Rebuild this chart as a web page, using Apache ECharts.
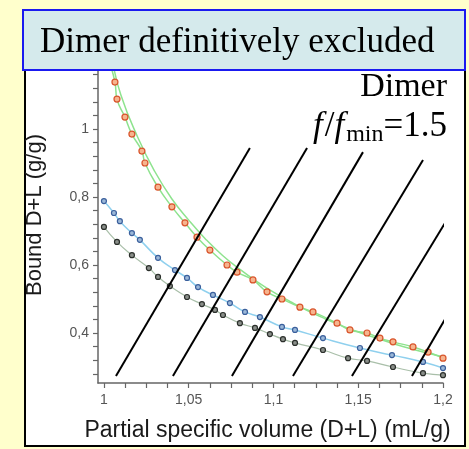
<!DOCTYPE html>
<html>
<head>
<meta charset="utf-8">
<script src="https://cdn.jsdelivr.net/npm/echarts@6/dist/echarts.min.js"></script>
<style>
  html, body { margin: 0; padding: 0; background: #FFFFCC; }
  #chart { width: 469px; height: 449px; }
</style>
</head>
<body>
<div id="chart"></div>
<script>
// Bound detergent+lipid vs partial specific volume (three sample sets)
const redPoints = [
  [1.0, 1.29], [1.0024, 1.218], [1.0065, 1.138], [1.0077, 1.088], [1.0124, 1.035],
  [1.0165, 0.985], [1.0224, 0.935], [1.0242, 0.900], [1.0319, 0.829], [1.0401, 0.771],
  [1.0478, 0.724], [1.0549, 0.682], [1.0625, 0.644], [1.0726, 0.600], [1.0785, 0.579],
  [1.0879, 0.556], [1.0962, 0.521], [1.1050, 0.500], [1.1156, 0.476], [1.1233, 0.462],
  [1.1375, 0.429], [1.1451, 0.409], [1.1552, 0.400], [1.1628, 0.385], [1.1705, 0.374],
  [1.1823, 0.359], [1.1912, 0.344], [1.2, 0.326]
];
const redFitUpper = [
  [1.0, 1.33], [1.005, 1.20], [1.01, 1.10], [1.02, 0.975], [1.03, 0.875], [1.04, 0.795],
  [1.05, 0.732], [1.06, 0.676], [1.07, 0.628], [1.08, 0.588], [1.09, 0.552], [1.10, 0.520],
  [1.11, 0.492], [1.12, 0.466], [1.13, 0.443], [1.14, 0.422], [1.15, 0.403], [1.16, 0.386],
  [1.17, 0.370], [1.18, 0.355], [1.19, 0.342], [1.2, 0.330]
];
const bluePoints = [
  [1.0, 0.788], [1.0059, 0.753], [1.0094, 0.729], [1.0165, 0.694], [1.0212, 0.674],
  [1.0319, 0.621], [1.0419, 0.585], [1.0490, 0.562], [1.0555, 0.535], [1.0643, 0.512],
  [1.0743, 0.488], [1.0832, 0.462], [1.0920, 0.447], [1.1050, 0.418], [1.1127, 0.409],
  [1.1292, 0.385], [1.1510, 0.356], [1.1699, 0.335], [1.1882, 0.315], [1.2, 0.297]
];
const blackPoints = [
  [1.0, 0.712], [1.0077, 0.668], [1.0165, 0.629], [1.0265, 0.591], [1.0319, 0.565],
  [1.0389, 0.538], [1.0490, 0.506], [1.0578, 0.485], [1.0655, 0.468], [1.0702, 0.453],
  [1.0802, 0.429], [1.0891, 0.415], [1.0979, 0.397], [1.1056, 0.382], [1.1127, 0.371],
  [1.1292, 0.350], [1.1440, 0.326], [1.1552, 0.318], [1.1705, 0.300], [1.1882, 0.282],
  [1.2, 0.276]
];
// Dimer f/fmin = 1.5 iso-lines (start, end)
const dimerLines = [
  [[1.0071, 0.2735], [1.0861, 0.944]],
  [[1.0407, 0.2735], [1.1198, 0.944]],
  [[1.0755, 0.2735], [1.1528, 0.932]],
  [[1.1115, 0.2735], [1.1882, 0.909]],
  [[1.1463, 0.2735], [1.2094, 0.791]],
  [[1.1817, 0.2735], [1.2106, 0.521]]
];
const xTickValues = [1.0, 1.0125, 1.025, 1.0375, 1.05, 1.0625, 1.075, 1.0875, 1.1,
  1.1125, 1.125, 1.1375, 1.15, 1.1625, 1.175, 1.1875, 1.2];
const xLabelValues = [1.0, 1.05, 1.1, 1.15, 1.2];
const yTickValues = [0.28, 0.32, 0.36, 0.4, 0.44, 0.48, 0.52, 0.56, 0.6, 0.64, 0.68, 0.72,
  0.76, 0.8, 0.84, 0.88, 0.92, 0.96, 1.0, 1.04, 1.08, 1.12, 1.16, 1.2, 1.24, 1.28];
const yLabelValues = [0.4, 0.6, 0.8, 1.0, 1.2];

const commaFmt = v => String(Math.round(v * 1000) / 1000).replace('.', ',');

const chart = echarts.init(document.getElementById('chart'), null, { renderer: 'canvas' });

const lineSeries = dimerLines.map(seg => ({
  type: 'line', data: seg, symbol: 'none', clip: false, silent: true, z: 5,
  lineStyle: { color: '#000', width: 2 }
}));

chart.setOption({
  backgroundColor: '#FFFFCC',
  animation: false,
  grid: { left: 98, right: 26, top: 27, bottom: 66, containLabel: false },
  xAxis: {
    type: 'value', min: 0.9965, max: 1.2,
    name: 'Partial specific volume (D+L) (mL/g)',
    nameLocation: 'middle', nameGap: 36,
    nameTextStyle: { fontFamily: 'Liberation Sans', fontSize: 23, color: '#1a1a1a', padding: [0, 6, 0, 0] },
    axisLine: { show: true, onZero: false, lineStyle: { color: '#666', width: 1.5 } },
    axisTick: { show: true, customValues: xTickValues, length: 5, lineStyle: { color: '#666', width: 1.2 } },
    axisLabel: { customValues: xLabelValues, formatter: commaFmt, color: '#555',
      fontFamily: 'Liberation Sans', fontSize: 14, margin: 10 },
    splitLine: { show: false }
  },
  yAxis: {
    type: 'value', min: 0.253, max: 1.3,
    name: 'Bound D+L (g/g)',
    nameLocation: 'middle', nameGap: 52, nameRotate: 90,
    nameTextStyle: { fontFamily: 'Liberation Sans', fontSize: 22, color: '#1a1a1a', padding: [0, 20, 0, 0] },
    axisLine: { show: true, onZero: false, lineStyle: { color: '#666', width: 1.5 } },
    axisTick: { show: true, customValues: yTickValues, length: 5, lineStyle: { color: '#666', width: 1.2 } },
    axisLabel: { customValues: yLabelValues, formatter: commaFmt, color: '#555',
      fontFamily: 'Liberation Sans', fontSize: 14, margin: 9 },
    splitLine: { show: false }
  },
  graphic: [
    { type: 'rect', z: -10, shape: { x: 25, y: 25, width: 440, height: 421 },
      style: { fill: '#FFFFFF', stroke: '#000', lineWidth: 2 } },
    { type: 'rect', z: 100, shape: { x: 23, y: 10, width: 442, height: 60 },
      style: { fill: '#D5EAEC', stroke: '#1A1AF0', lineWidth: 2 } },
    { type: 'text', z: 101, left: 40, top: 25,
      style: { text: 'Dimer definitively excluded', fill: '#000',
        font: '35px "Liberation Serif"' } },
    { type: 'text', z: 101, right: 22, top: 70,
      style: { text: 'Dimer', fill: '#000', font: '34px "Liberation Serif"', align: 'right' } },
    { type: 'text', z: 101, right: 22, top: 109,
      style: {
        text: '{i|f}{n|/}{i|f}{s|min}{n|=1.5}', align: 'right',
        rich: {
          i: { font: 'italic 35px "Liberation Serif"', fill: '#000', padding: [0, 2, 0, 0] },
          n: { font: '35px "Liberation Serif"', fill: '#000' },
          s: { font: '24px "Liberation Serif"', fill: '#000', verticalAlign: 'bottom', padding: [16, 0, 0, 0] }
        }
      } }
  ],
  series: [
    {
      type: 'line', data: redFitUpper, symbol: 'none', smooth: true, silent: true, z: 2,
      lineStyle: { color: '#8EE38E', width: 1.5 }
    },
    {
      type: 'line', data: blackPoints, smooth: true, symbol: 'circle', symbolSize: 5, z: 3,
      lineStyle: { color: '#A9BFA9', width: 1.2 },
      itemStyle: { color: '#8a8f8a', borderColor: '#2b2f2b', borderWidth: 1.2 }
    },
    {
      type: 'line', data: bluePoints, smooth: true, symbol: 'circle', symbolSize: 5, z: 3,
      lineStyle: { color: '#8FD0EE', width: 1.5 },
      itemStyle: { color: '#9bb8d8', borderColor: '#3a5f9c', borderWidth: 1.2 }
    },
    {
      type: 'line', data: redPoints, smooth: true, symbol: 'circle', symbolSize: 6, z: 3,
      lineStyle: { color: '#8EE38E', width: 1.5 },
      itemStyle: { color: '#F6B48E', borderColor: '#D9542B', borderWidth: 1.2 }
    },
    ...lineSeries
  ]
});
</script>
</body>
</html>
